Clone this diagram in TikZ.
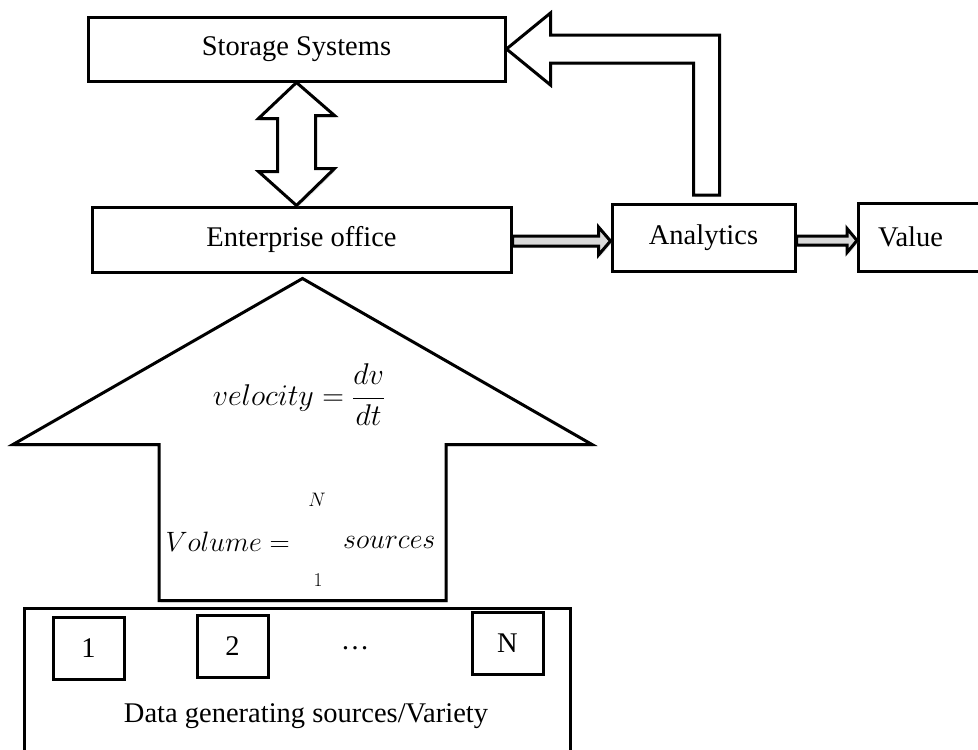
\RequirePackage{fix-cm}
\documentclass[tikz,border=0pt]{standalone}
\usepackage{fontspec}
\setmainfont{Liberation Serif}
\usetikzlibrary{calc,shadows}
\begin{document}
\begin{tikzpicture}[x=1pt,y=-1pt,
  box/.style={draw, line width=3pt, inner sep=0pt, font=\fontsize{28.5}{34}\selectfont},
  txt/.style={inner sep=0pt, font=\fontsize{28.5}{34}\selectfont},
  mathtxt/.style={inner sep=0pt, font=\fontsize{28}{34}\selectfont},
  mathbig/.style={inner sep=0pt, font=\fontsize{30}{36}\selectfont},
  mathsmall/.style={inner sep=0pt, font=\fontsize{19.5}{24}\selectfont},
  blockarrow/.style={draw, line width=3pt, fill=white, line join=miter,
    drop shadow={opacity=0.22, shadow xshift=1.5pt, shadow yshift=-2pt}},
  thinarrow/.style={draw, line width=3pt, fill=gray!30, line join=miter,
    drop shadow={opacity=0.22, shadow xshift=1.5pt, shadow yshift=-2pt}}]
\useasboundingbox (0,0) rectangle (978,750);
\clip (0,0) rectangle (978,750);

% boxes
\node[box, minimum width=417pt, minimum height=64pt] (storage) at (296.5,49) {Storage Systems};
\node[box, minimum width=419pt, minimum height=65pt] (office) at (301.5,239.5) {Enterprise office};
\node[box, minimum width=183pt, minimum height=67pt] (analytics) at (703.5,237.5) {Analytics};
\node[box, minimum width=140pt, minimum height=68pt, anchor=west] (value) at (857,237) {Value\rule{36pt}{0pt}};

\node[box, line width=2.6pt, minimum width=546pt, minimum height=170pt, anchor=north west] (sources) at (23,607) {};
\node[box, minimum width=71pt, minimum height=62pt] (s1) at (88.5,648) {1};
\node[box, minimum width=71pt, minimum height=62pt] (s2) at (232.5,646) {2};
\node[box, minimum width=71pt, minimum height=62pt] (sN) at (507.5,643.5) {N};
\node[txt] (dots) at (355,648) {…};
\node[txt] (vtxt) at (306,716) {Data generating sources/Variety};

% block arrows
\draw[blockarrow] (storage.south) -- ++(-38,36) -- ++(19,0) -- ++(0,53) -- ++(-19,0)
  -- (storage.south |- office.north) -- ++(38,-37) -- ++(-19,0) -- ++(0,-53) -- ++(19,0) -- cycle;

\draw[blockarrow] ($(office.south)+(1,5)$) -- ++(-289.5,166) -- ++(146,0) -- ++(0,156)
  -- ++(287,0) -- ++(0,-156) -- ++(146,0) -- cycle;

\draw[blockarrow] (storage.east) -- ++(44,-36) -- ++(0,22) -- ++(169,0) -- ++(0,160)
  -- ++(-26,0) -- ++(0,-132) -- ++(-143,0) -- ++(0,22) -- cycle;

\coordinate (a1) at ($(office.east)+(0,1.5)$);
\coordinate (a1t) at (analytics.west |- a1);
\draw[thinarrow] ($(a1)+(0,-5)$) -- ($(a1t)+(-12,-5)$) -- ++(0,-9) -- (a1t) -- ++(-12,14)
  -- ++(0,-9) -- ($(a1)+(0,5)$) -- cycle;

\coordinate (a2) at ($(analytics.east)+(0,3)$);
\coordinate (a2t) at (value.west |- a2);
\draw[thinarrow] ($(a2)+(0,-4.5)$) -- ($(a2t)+(-10,-4.5)$) -- ++(0,-7.5) -- (a2t) -- ++(-10,12)
  -- ++(0,-7.5) -- ($(a2)+(0,4.5)$) -- cycle;

% formulas
\node[mathbig] (vel) at (299,395) {$velocity = \displaystyle\frac{dv}{dt}$};
\node[mathtxt, anchor=east] (vol) at (290,542) {$Volume =$};
\node[mathtxt, anchor=west] (src) at (343,542) {$sources$};
\node[mathsmall] (supN) at (317,500) {$N$};
\node[mathsmall] (sub1) at (318,580) {$1$};
\end{tikzpicture}
\end{document}
